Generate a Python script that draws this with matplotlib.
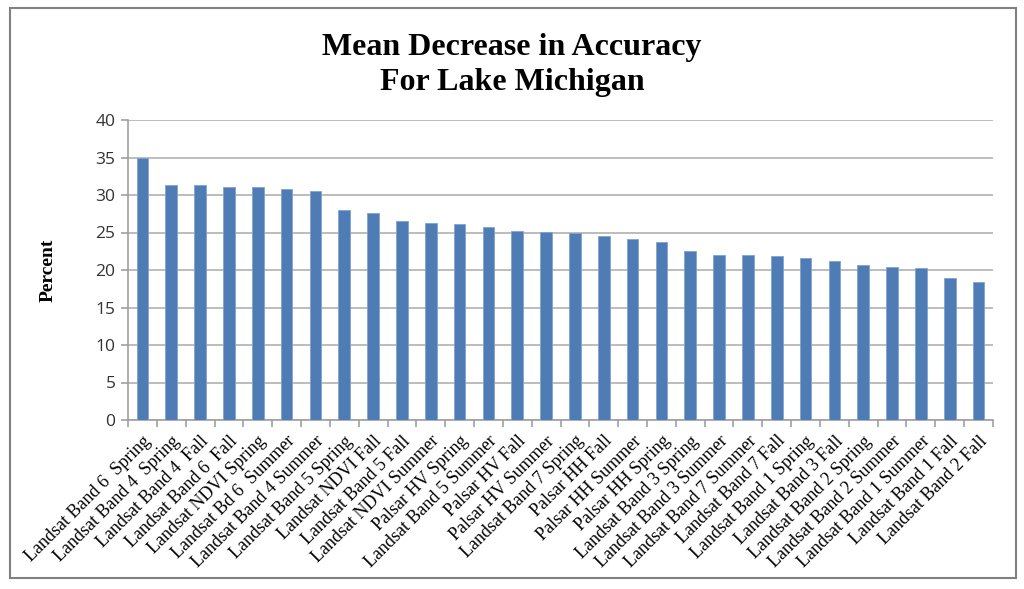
import matplotlib.pyplot as plt
import numpy as np
from matplotlib.patches import Rectangle

labels = ["Landsat Band 6  Spring", "Landsat Band 4  Spring", "Landsat Band 4  Fall",
          "Landsat Band 6  Fall", "Landsat NDVI Spring", "Landsat Bd 6  Summer",
          "Landsat Band 4 Summer", "Landsat Band 5 Spring", "Landsat NDVI Fall",
          "Landsat Band 5 Fall", "Landsat NDVI Summer", "Palsar HV Spring",
          "Landsat Band 5 Summer", "Palsar HV Fall", "Palsar HV Summer",
          "Landsat Band 7 Spring", "Palsar HH Fall", "Palsar HH Summer",
          "Palsar HH Spring", "Landsat Band 3 Spring", "Landsat Band 3 Summer",
          "Landsat Band 7 Summer", "Landsat Band 7 Fall", "Landsat Band 1 Spring",
          "Landsat Band 3 Fall", "Landsat Band 2 Spring", "Landsat Band 2 Summer",
          "Landsat Band 1 Summer", "Landsat Band 1 Fall", "Landsat Band 2 Fall"]
values = [35.0, 31.3, 31.3, 31.1, 31.1, 30.8, 30.5, 28.0, 27.6, 26.6,
          26.3, 26.2, 25.8, 25.2, 25.05, 25.0, 24.6, 24.2, 23.8, 22.6,
          22.05, 22.05, 21.9, 21.6, 21.2, 20.7, 20.4, 20.3, 18.9, 18.4]

fig = plt.figure(figsize=(10.24, 5.89), dpi=100)
ax = fig.add_axes([128/1024, 1-420/589, 865/1024, 300/589])

x = np.arange(len(values))
ax.bar(x, values, width=0.4, color='#4f7cb4', edgecolor='#7fa3d0', linewidth=0.6, zorder=3)

ax.set_xlim(-0.5, len(values)-0.5)
ax.set_ylim(0, 40)
ax.set_yticks(np.arange(0, 41, 5))
ax.grid(axis='y', color='#b0b0b0', linewidth=1.2, zorder=0)
for s in ['top', 'right']:
    ax.spines[s].set_visible(False)
for s in ['left', 'bottom']:
    ax.spines[s].set_color('#a0a0a0')
    ax.spines[s].set_linewidth(1.2)

ax.set_xticks(x)
ax.set_xticklabels(labels, rotation=45, ha='right', rotation_mode='anchor',
                   family='Liberation Serif', fontsize=13)
ax.set_xticks(np.arange(-0.5, len(values), 1), minor=True)
ax.tick_params(axis='x', which='major', length=0, pad=9)
ax.tick_params(axis='x', which='minor', length=5, color='#a0a0a0', width=1.2)
ax.tick_params(axis='y', length=5, color='#a0a0a0', width=1.2, labelsize=12.5, pad=4)
for t in ax.get_yticklabels():
    t.set_family('Open Sans')
    t.set_color('#333333')

ax.set_ylabel('Percent', family='Liberation Serif', fontweight='bold', fontsize=14, labelpad=28)

fig.text(0.5, 1-65/589, 'Mean Decrease in Accuracy\nFor Lake Michigan', ha='center', va='center',
         family='Liberation Serif', fontweight='bold', fontsize=23, linespacing=1.3)

fig.patches.append(Rectangle((10/1024, 1-578/589), 1006/1024, 570/589, transform=fig.transFigure,
                             fill=False, edgecolor='#808080', linewidth=1.5))

fig.savefig('out.png', dpi=100)
